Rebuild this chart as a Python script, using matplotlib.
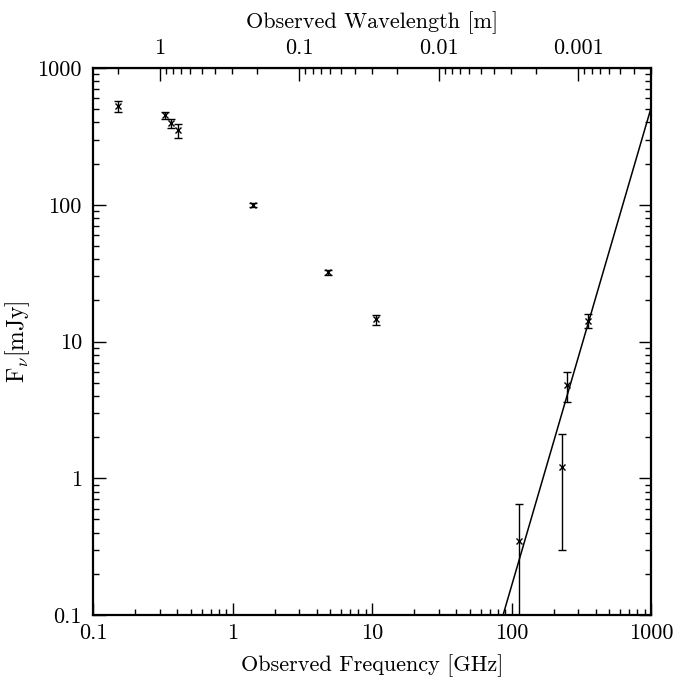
import numpy as np
import matplotlib
matplotlib.use("Agg")
import matplotlib.pyplot as plt
from matplotlib.ticker import LogLocator, FuncFormatter, NullFormatter

# Data
freq_ghz = [0.151, 0.327, 0.365, 0.408, 1.4, 4.86, 10.7, 113, 230, 250, 353]
flux_mjy = [525, 450, 395, 350, 100, 32, 14.5, 0.35, 1.2, 4.8, 14.2]
flux_err = [45, 25, 30, 40, 3, 1.5, 1.2, 0.30, 0.9, 1.2, 1.6]

line_freq = [87, 1000]
line_flux = [0.1, 510]

xtick_vals = [0.1, 1, 10, 100, 1000]
ytick_vals = [0.1, 1, 10, 100, 1000]
wl_tick_vals = [1, 0.1, 0.01, 0.001]

C_GHZ_M = 0.299792458

plt.rcParams['font.family'] = ['cmr10', 'DejaVu Serif']
plt.rcParams['mathtext.fontset'] = 'cm'
plt.rcParams['axes.formatter.use_mathtext'] = True

FS = 16

fig = plt.figure(figsize=(6.9, 6.78), dpi=100)
ax = fig.add_axes([0.1348, 0.0929, 0.8087, 0.8068])

ax.errorbar(freq_ghz, flux_mjy, yerr=flux_err, fmt='x', color='black',
            ms=4, mew=1.0, elinewidth=1.0, capsize=2.6, capthick=1.0)
ax.plot(line_freq, line_flux, color='black', lw=1.1)

ax.set_xscale('log')
ax.set_yscale('log')
ax.set_xlim(0.1, 1000)
ax.set_ylim(0.1, 1000)

fmt = FuncFormatter(lambda v, p: f"{v:g}")
ax.set_xticks(xtick_vals)
ax.set_yticks(ytick_vals)
ax.xaxis.set_major_formatter(fmt)
ax.yaxis.set_major_formatter(fmt)
ax.xaxis.set_minor_locator(LogLocator(base=10, subs=np.arange(2, 10)))
ax.yaxis.set_minor_locator(LogLocator(base=10, subs=np.arange(2, 10)))
ax.xaxis.set_minor_formatter(NullFormatter())
ax.yaxis.set_minor_formatter(NullFormatter())

ax.tick_params(which='both', direction='in', right=True, top=False, labelsize=FS, width=1.0)
ax.tick_params(which='major', length=9)
ax.tick_params(which='minor', length=4.5)
ax.tick_params(axis='x', pad=6)
ax.tick_params(axis='y', pad=8)
for s in ax.spines.values():
    s.set_linewidth(1.6)

ax.set_xlabel('Observed Frequency [GHz]', fontsize=FS, labelpad=8)
ax.set_ylabel(r'F$_\nu$[mJy]', fontsize=FS + 1, labelpad=4)

sec = ax.secondary_xaxis('top', functions=(lambda f: C_GHZ_M / f, lambda w: C_GHZ_M / w))
sec.set_xticks(wl_tick_vals)
sec.xaxis.set_major_formatter(fmt)
sec.xaxis.set_minor_locator(LogLocator(base=10, subs=np.arange(2, 10)))
sec.xaxis.set_minor_formatter(NullFormatter())
sec.tick_params(which='both', direction='in', labelsize=FS, width=1.0, pad=7)
sec.tick_params(which='major', length=9)
sec.tick_params(which='minor', length=4.5)
sec.set_xlabel('Observed Wavelength [m]', fontsize=FS, labelpad=8)

fig.savefig('out.png', dpi=100)
